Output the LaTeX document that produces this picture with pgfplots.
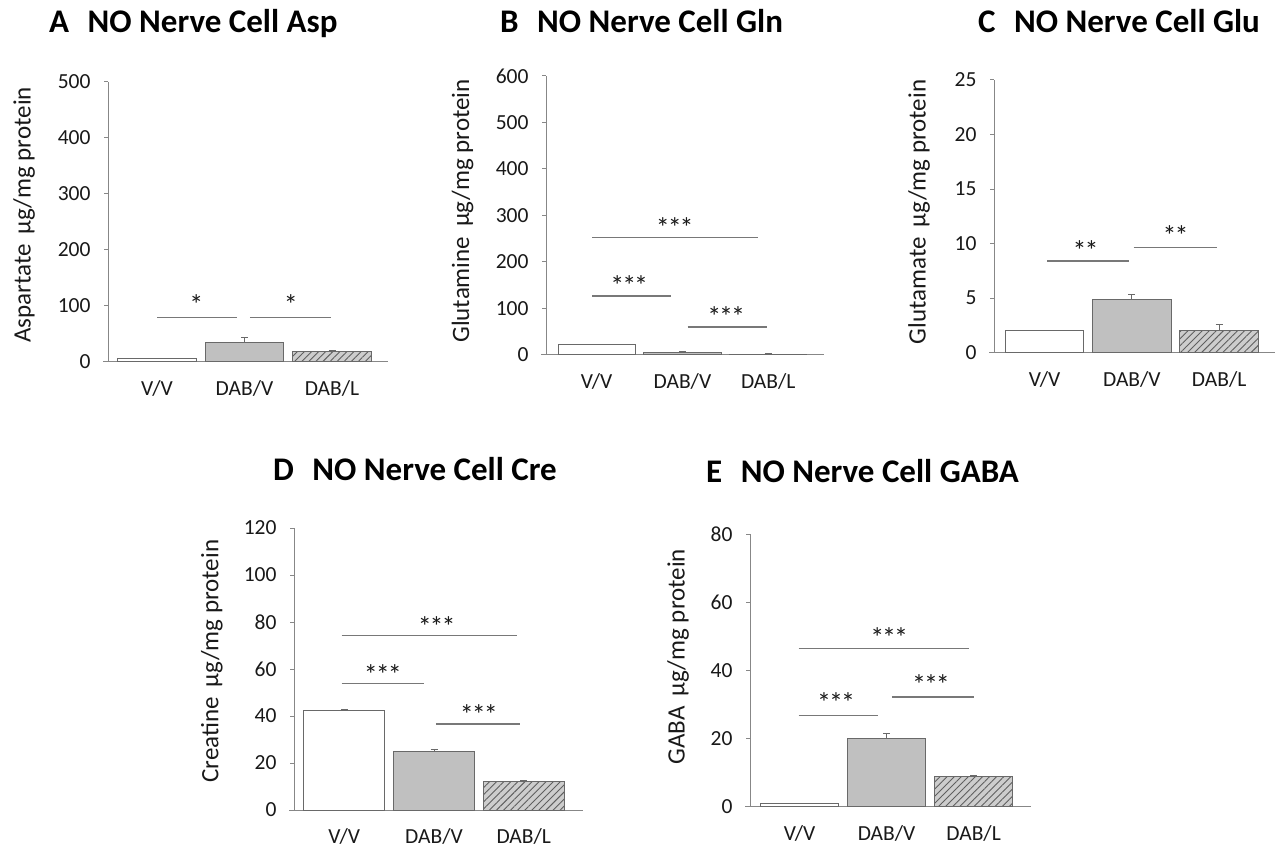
\documentclass[border=0pt]{standalone}
\usepackage{fontspec}
\setmainfont{Carlito}
\usepackage{pgfplots}
\pgfplotsset{compat=1.18}
\usetikzlibrary{patterns.meta}

\definecolor{axisgray}{RGB}{135,135,135}
\definecolor{bardraw}{RGB}{105,105,105}
\definecolor{barfill}{RGB}{192,192,192}
\definecolor{hatchbg}{RGB}{205,205,205}
\definecolor{hatchline}{RGB}{95,95,95}
\definecolor{sigline}{RGB}{120,120,120}
\definecolor{txt}{RGB}{25,25,25}

\tikzset{stars/.style={font=\fontsize{28}{30}\selectfont, text=txt, anchor=base, yshift=-14pt, inner sep=0pt},
  ttl/.style={anchor=base west, font=\fontsize{33}{36}\selectfont\bfseries, text=black, inner sep=0pt}}

\pgfplotsset{
  panel/.style={
    scale only axis, anchor=south west,
    axis lines*=left,
    x axis line style={-, draw=axisgray, line width=1pt, shorten <=-5pt},
    y axis line style={-, draw=axisgray, line width=1pt},
    ymin=0,
    xtick={0,1,2}, xticklabels={V/V,DAB/V,DAB/L},
    xtick style={draw=none},
    ytick style={draw=axisgray, line width=1pt},
    tick align=outside, major tick length=4pt,
    ticklabel style={font=\fontsize{21.5}{24}\selectfont, text=txt},
    yticklabel style={xshift=-10pt},
    xticklabel style={yshift=-11pt},
    /pgf/number format/assume math mode=true,
    label style={font=\fontsize{25}{28}\selectfont, text=txt},
    clip=false,
  },
  vbar/.style={ybar, bar shift=0pt, bar width=0.9, draw=bardraw, line width=1pt,
    error bars/y dir=plus, error bars/y explicit,
    error bars/error bar style={draw=bardraw, line width=1pt},
    error bars/error mark options={rotate=90, mark size=3.5pt, draw=bardraw, line width=1pt}},
  bwhite/.style={vbar, fill=white},
  bgray/.style={vbar, fill=barfill},
  bhatch/.style={vbar, fill=hatchbg, postaction={pattern={Lines[angle=45,distance=5pt,line width=0.9pt]}, pattern color=hatchline}},
  sig/.style={sharp plot, no marks, draw=sigline, line width=1.2pt, forget plot},
}
\newcommand{\three}{*\hspace{-2pt}*\hspace{-2pt}*}
\newcommand{\two}{*\hspace{-2pt}*}

\begin{document}
\begin{tikzpicture}
\path[use as bounding box] (0,0) rectangle (1281pt,847pt);

% Titles
\node[ttl] at (49pt,814pt) {A\,\, NO Nerve Cell Asp};
\node[ttl] at (500pt,814pt) {B\,\, NO Nerve Cell Gln};
\node[ttl] at (978pt,814pt) {C\,\, NO Nerve Cell Glu};
\node[ttl] at (273pt,367pt) {D\,\, NO Nerve Cell Cre};
\node[ttl] at (706pt,365pt) {E\,\, NO Nerve Cell GABA};

% Panel A
\begin{axis}[panel, at={(108pt,485pt)}, width=280pt, height=280pt,
  xmin=-0.56, xmax=2.64, ymax=500, ytick={0,100,...,500},
  ylabel={Aspartate\, µg/mg protein},
  ylabel style={at={(axis description cs:-0.30,0.525)}, anchor=center}]
\addplot[bwhite] coordinates {(0,7) +- (0,0)};
\addplot[bgray] coordinates {(1,35) +- (0,9)};
\addplot[bhatch] coordinates {(2,18) +- (0,2)};
\addplot[sig] coordinates {(0,79) (0.91,79)};
\addplot[sig] coordinates {(1.06,79) (1.99,79)};
\node[stars] at (axis cs:0.45,109) {*};
\node[stars] at (axis cs:1.53,109) {*};
\end{axis}

% Panel B
\begin{axis}[panel, at={(546pt,492pt)}, width=278pt, height=279pt,
  xmin=-0.59, xmax=2.65, ymax=600, ytick={0,100,...,600},
  ylabel={Glutamine\, µg/mg protein},
  ylabel style={at={(axis description cs:-0.30,0.516)}, anchor=center}]
\addplot[bwhite] coordinates {(0,23) +- (0,0)};
\addplot[bgray] coordinates {(1,5) +- (0,2)};
\addplot[bhatch] coordinates {(2,2) +- (0,0.5)};
\addplot[sig] coordinates {(-0.05,252) (1.88,252)};
\addplot[sig] coordinates {(-0.05,127) (0.87,127)};
\addplot[sig] coordinates {(1.06,60) (1.98,60)};
\node[stars] at (axis cs:0.91,282) {\three};
\node[stars] at (axis cs:0.38,159) {\three};
\node[stars] at (axis cs:1.51,92) {\three};
\end{axis}

% Panel C
\begin{axis}[panel, at={(994pt,494.3pt)}, width=281pt, height=272.7pt,
  xmin=-0.58, xmax=2.64, ymax=25, ytick={0,5,...,25},
  ylabel={Glutamate\, µg/mg protein},
  ylabel style={at={(axis description cs:-0.267,0.516)}, anchor=center}]
\addplot[bwhite] coordinates {(0,2.0) +- (0,0.05)};
\addplot[bgray] coordinates {(1,4.9) +- (0,0.45)};
\addplot[bhatch] coordinates {(2,2.0) +- (0,0.55)};
\addplot[sig] coordinates {(0.03,8.4) (0.97,8.4)};
\addplot[sig] coordinates {(1.02,9.66) (1.97,9.66)};
\node[stars] at (axis cs:0.47,9.7) {\two};
\node[stars] at (axis cs:1.50,11.15) {\two};
\end{axis}

% Panel D
\begin{axis}[panel, at={(294pt,37pt)}, width=289pt, height=282pt,
  xmin=-0.56, xmax=2.66, ymax=120, ytick={0,20,...,120},
  ylabel={Creatine\, µg/mg protein},
  ylabel style={at={(axis description cs:-0.284,0.528)}, anchor=center}]
\addplot[bwhite] coordinates {(0,42.3) +- (0,0.6)};
\addplot[bgray] coordinates {(1,24.7) +- (0,1.2)};
\addplot[bhatch] coordinates {(2,12.1) +- (0,0.6)};
\addplot[sig] coordinates {(-0.03,74.2) (1.92,74.2)};
\addplot[sig] coordinates {(-0.03,53.7) (0.89,53.7)};
\addplot[sig] coordinates {(1.02,36.6) (1.96,36.6)};
\node[stars] at (axis cs:1.03,80) {\three};
\node[stars] at (axis cs:0.43,59.3) {\three};
\node[stars] at (axis cs:1.50,42.3) {\three};
\end{axis}

% Panel E
\begin{axis}[panel, at={(750pt,40.3pt)}, width=281pt, height=272.7pt,
  xmin=-0.57, xmax=2.66, ymax=80, ytick={0,20,...,80},
  ylabel={GABA\, µg/mg protein},
  ylabel style={at={(axis description cs:-0.256,0.55)}, anchor=center}]
\addplot[bwhite] coordinates {(0,1.0) +- (0,0)};
\addplot[bgray] coordinates {(1,20.0) +- (0,1.5)};
\addplot[bhatch] coordinates {(2,9.0) +- (0,0.1)};
\addplot[sig] coordinates {(-0.01,46.3) (1.95,46.3)};
\addplot[sig] coordinates {(-0.01,26.7) (0.9,26.7)};
\addplot[sig] coordinates {(1.06,32.2) (2.0,32.2)};
\node[stars] at (axis cs:1.03,50.9) {\three};
\node[stars] at (axis cs:0.42,31.7) {\three};
\node[stars] at (axis cs:1.51,37) {\three};
\end{axis}
\end{tikzpicture}
\end{document}
